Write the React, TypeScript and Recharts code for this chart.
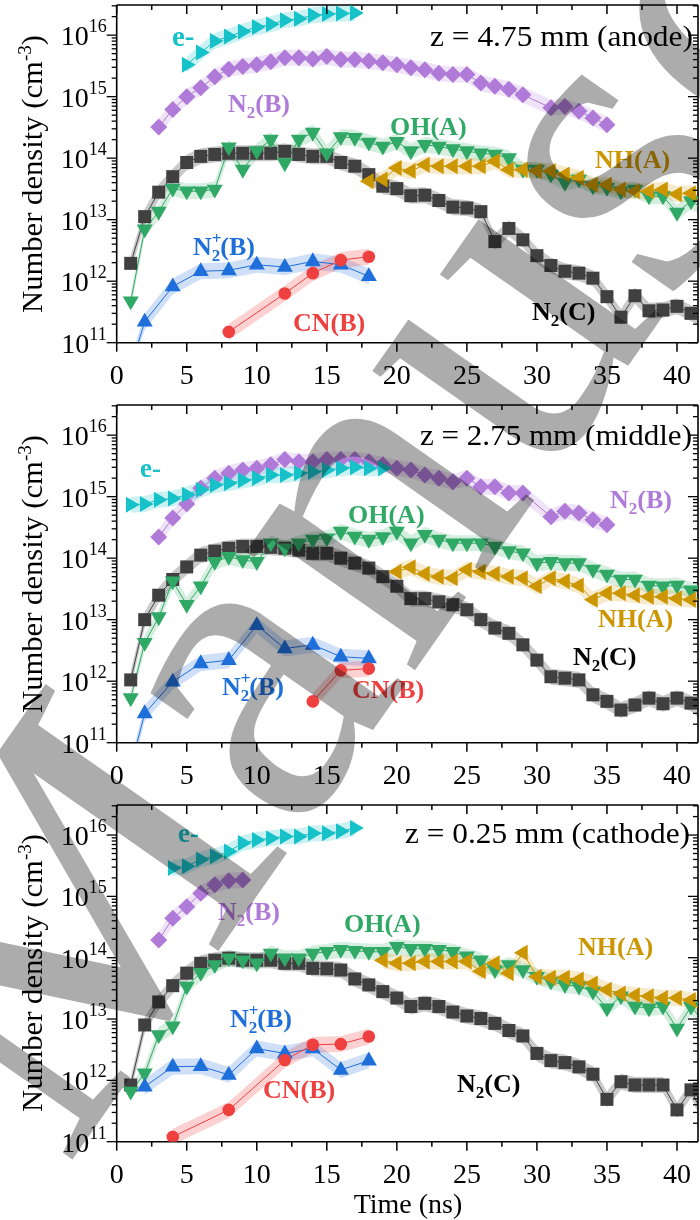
import React from 'react';
import { ComposedChart, Line, Area, XAxis, YAxis } from 'recharts';

const FONT = '"Liberation Serif", "Times New Roman", serif';

// ---------- colours ----------
const COL_N2C = '#404040';
const COL_E = '#17c1c8';
const COL_N2B = '#b07ad8';
const COL_OH = '#30a866';
const COL_NH = '#cc9600';
const COL_N2P = '#1f6fdb';
const COL_CN = '#ef4040';

// ---------- axes ----------
const X_MAX = 41.5;
const X_TICKS = [0, 2.5, 5, 7.5, 10, 12.5, 15, 17.5, 20, 22.5, 25, 27.5, 30, 32.5, 35, 37.5, 40];
const Y_MIN = 1e11;
const Y_MAX = 3.09e16;
const Y_DECADES = [1e11, 1e12, 1e13, 1e14, 1e15, 1e16];
const Y_MINOR = [2, 3, 4, 5, 6, 7, 8, 9];
const Y_TICKS = Y_DECADES.flatMap((d) => [d, ...Y_MINOR.map((m) => m * d)]).filter((v) => v <= Y_MAX);

// ---------- shared time categories ----------
const T_ALL = [1, 2, 3, 4, 5, 6, 7, 8, 9, 10, 11, 12, 13, 14, 15, 16, 17, 18, 19, 20, 21, 22, 23, 24, 25, 26, 27, 28, 29, 30, 31, 32, 33, 34, 35, 36, 37, 38, 39, 40, 41, 42];
const T_N2B = [3, 4, 5, 6, 7, 8, 9, 10, 11, 12, 13, 14, 15, 16, 17, 18, 19, 20, 21, 22, 23, 24, 25, 26, 27, 28, 29, 31, 32, 33, 34, 35];
const T_N2P = [1, 2, 4, 6, 8, 10, 12, 14, 16, 18];

// ---------- z = 4.75 mm (anode) ----------
const A_N2C = [1.95e12, 1.12e13, 2.8e13, 5.0e13, 8.5e13, 1.07e14, 1.15e14, 1.2e14, 1.2e14, 1.2e14,
  1.2e14, 1.29e14, 1.15e14, 1.07e14, 1.07e14, 8.5e13, 7.4e13, 5.4e13, 3.5e13, 3.2e13,
  2.45e13, 2.5e13, 2.05e13, 1.6e13, 1.55e13, 1.35e13, 4.4e12, 7.2e12, 4.7e12, 2.6e12,
  1.8e12, 1.45e12, 1.35e12, 1.12e12, 5.6e11, 2.6e11, 5.8e11, 3.3e11, 3.4e11, 3.9e11, 3.0e11, 2.3e11];
const A_OH = [4.7e11, 7e12, 1.35e13, 3.2e13, 2.9e13, 2.9e13, 3.1e13, 1.5e14, 6.5e13, 1.3e14,
  2e14, 8.3e13, 2e14, 2.6e14, 1.2e14, 2.2e14, 2.15e14, 1.8e14, 1.55e14, 1.85e14,
  1.3e14, 1.65e14, 1.55e14, 1.4e14, 1.3e14, 1.2e14, 1.15e14, 1.0e14, 6.5e13, 6.5e13,
  5.4e13, 4e13, 4.5e13, 3.5e13, 3.3e13, 2.9e13, 3.1e13, 2.4e13, 2.4e13, 1.3e13, 2e13, 1.45e13];
const A_NH_T = [18, 19, 20, 21, 22, 23, 24, 25, 26, 27, 28, 29, 30, 31, 32, 33, 34, 35, 36, 37, 38, 39, 40, 41, 42];
const A_NH = [4.2e13, 4.5e13, 6.9e13, 6.2e13, 7.8e13, 7.4e13, 7.4e13, 7.4e13, 7.4e13, 8.9e13,
  6.5e13, 6.5e13, 6.2e13, 6.2e13, 5.4e13, 4.8e13, 3.7e13, 3.7e13, 3.1e13, 2.9e13,
  2.9e13, 3.1e13, 2.6e13, 2.7e13, 2.2e13];
const A_E_T = [5, 6, 7, 8, 9, 10, 11, 12, 13, 14, 15, 16, 17];
const A_E = [3.3e15, 5.2e15, 8e15, 9.5e15, 1.15e16, 1.35e16, 1.5e16, 1.75e16, 1.85e16, 2.1e16, 2.2e16, 2.25e16, 2.3e16];
const A_N2B = [3.2e14, 6.2e14, 1.0e15, 1.4e15, 2.1e15, 2.8e15, 3.1e15, 3.3e15, 3.7e15, 4.3e15,
  4.3e15, 4.1e15, 4.5e15, 4.0e15, 4.0e15, 3.8e15, 3.55e15, 3.3e15, 2.95e15, 2.75e15,
  2.4e15, 2.3e15, 2.3e15, 1.66e15, 1.48e15, 1.32e15, 1.07e15, 6.6e14, 6.9e14, 5.8e14, 4.5e14, 3.5e14];
const A_N2P = [4e10, 2.2e11, 8.2e11, 1.45e12, 1.5e12, 1.85e12, 1.7e12, 2.1e12, 1.85e12, 1.2e12];
const A_CN_T = [8, 12, 14, 16, 18];
const A_CN = [1.5e11, 6.3e11, 1.35e12, 2.2e12, 2.5e12];

// ---------- z = 2.75 mm (middle) ----------
const M_N2C = [1.05e12, 1e13, 2.5e13, 4.5e13, 7.2e13, 1.12e14, 1.3e14, 1.45e14, 1.55e14, 1.55e14,
  1.5e14, 1.45e14, 1.35e14, 1.2e14, 1.2e14, 1.0e14, 8.3e13, 6.9e13, 5e13, 3.5e13,
  2.2e13, 2.2e13, 1.95e13, 1.75e13, 1.45e13, 1.0e13, 7.3e12, 6e12, 3.9e12, 2.2e12,
  1.18e12, 1.12e12, 1.05e12, 6e11, 4.7e11, 3.4e11, 4.1e11, 5.3e11, 4.3e11, 5.3e11, 4.4e11, 2.8e11];
const M_OH = [5.3e11, 4.2e12, 1.1e13, 4.2e13, 1.75e13, 3.5e13, 8.7e13, 1.05e14, 9.3e13, 8.7e13,
  1.75e14, 1.45e14, 1.75e14, 2e14, 2.1e14, 2.7e14, 2.25e14, 2e14, 2.2e14, 2.7e14,
  1.75e14, 2.4e14, 2e14, 1.75e14, 1.75e14, 1.75e14, 1.55e14, 1.3e14, 1.2e14, 8.3e13,
  8.7e13, 8.3e13, 8.3e13, 6.5e13, 5.4e13, 4.5e13, 4.5e13, 3.6e13, 3.5e13, 3.6e13, 3.0e13, 2.7e13];
const M_NH_T = [20, 21, 22, 23, 24, 25, 26, 27, 28, 29, 30, 31, 32, 33, 34, 35, 36, 37, 38, 39, 40, 41, 42];
const M_NH = [6.0e13, 7.1e13, 5.6e13, 5.0e13, 4.7e13, 6.5e13, 6.0e13, 5.6e13, 5.0e13, 4.7e13,
  3.5e13, 4.7e13, 4.2e13, 3.6e13, 2.1e13, 2.7e13, 2.7e13, 2.5e13, 2.35e13, 2.35e13,
  2.2e13, 2.1e13, 2.1e13];
const M_E_T = [1, 2, 3, 4, 5, 6, 7, 8, 9, 10, 11, 12, 13, 14, 15, 16, 17, 18, 19];
const M_E = [7.4e14, 7.6e14, 8.9e14, 9.3e14, 1.07e15, 1.3e15, 1.55e15, 1.65e15, 1.85e15, 2.0e15,
  2.25e15, 2.25e15, 2.4e15, 2.55e15, 2.7e15, 2.9e15, 3.0e15, 2.9e15, 2.9e15];
const M_N2B = [2.2e14, 4.5e14, 7.6e14, 1.38e15, 2.0e15, 2.4e15, 2.7e15, 2.9e15, 3.3e15, 4.0e15,
  3.7e15, 3.7e15, 4.0e15, 4.0e15, 4.0e15, 3.7e15, 3.3e15, 2.9e15, 2.7e15, 2.25e15,
  2.0e15, 1.75e15, 2.0e15, 1.45e15, 1.45e15, 1.15e15, 1.15e15, 4.7e14, 5.8e14, 5.4e14, 4.2e14, 3.5e14];
const M_N2P = [4e10, 3e11, 9.8e11, 1.95e12, 2.2e12, 8.1e12, 3.4e12, 3.9e12, 2.5e12, 2.35e12];
const M_CN_T = [14, 16, 18];
const M_CN = [4.7e11, 1.5e12, 1.6e12];

// ---------- z = 0.25 mm (cathode) ----------
const C_N2C = [8.4e11, 8e12, 1.9e13, 3.5e13, 5.6e13, 8.1e13, 9.1e13, 9.8e13, 9.1e13, 9.1e13,
  9.1e13, 8.1e13, 8.1e13, 6.7e13, 6.6e13, 6.3e13, 4.5e13, 3.6e13, 2.8e13, 2.2e13,
  1.6e13, 1.8e13, 1.6e13, 1.3e13, 1.12e13, 1.02e13, 8.5e12, 6.5e12, 5.3e12, 2.75e12,
  2.1e12, 1.95e12, 1.66e12, 1.26e12, 4.9e11, 9.5e11, 8.4e11, 8.4e11, 8.4e11, 3.3e11, 7e11, 2.3e11];
const C_OH = [6.6e11, 1.3e12, 5.5e12, 7.6e12, 3.4e13, 5.7e13, 7.6e13, 9.8e13, 9.1e13, 8.1e13,
  1.17e14, 9.8e13, 9.8e13, 1.17e14, 1.25e14, 1.35e14, 1.3e14, 1.25e14, 1.25e14, 1.5e14,
  1.4e14, 1.4e14, 1.35e14, 1.25e14, 1.05e14, 9.1e13, 6.3e13, 7.6e13, 6.3e13, 4.9e13,
  4.1e13, 3.6e13, 3.4e13, 2.8e13, 1.5e13, 2.35e13, 1.6e13, 1.5e13, 1.6e13, 7e12, 1.6e13, 8.5e12];
const C_NH_T = [19, 20, 21, 22, 23, 24, 25, 26, 27, 28, 29, 30, 31, 32, 33, 34, 35, 36, 37, 38, 39, 40, 41, 42];
const C_NH = [9.1e13, 8.1e13, 8.1e13, 8.7e13, 8.7e13, 8.7e13, 8.7e13, 6e13, 8.1e13, 5.6e13,
  1.2e14, 4.9e13, 4.7e13, 4.7e13, 4.4e13, 3.8e13, 3e13, 2.6e13, 2.45e13, 2.35e13,
  2.2e13, 2.2e13, 2.05e13, 1.6e13];
const C_E_T = [4, 5, 6, 7, 8, 9, 10, 11, 12, 13, 14, 15, 16, 17];
const C_E = [2.9e15, 3.1e15, 4e15, 4.5e15, 5.4e15, 7.4e15, 8.3e15, 8.9e15, 9.5e15, 9.5e15, 1.07e16, 1.07e16, 1.15e16, 1.3e16];
const C_N2B_T = [3, 4, 5, 6, 7, 8, 9];
const C_N2B = [1.95e14, 4.4e14, 6.8e14, 1.12e15, 1.55e15, 1.8e15, 1.85e15];
const C_N2P_T = [2, 4, 6, 8, 10, 12, 14, 16, 18];
const C_N2P = [7.9e11, 1.67e12, 1.7e12, 1.23e12, 3.3e12, 2.75e12, 3.3e12, 1.48e12, 2.1e12];
const C_CN_T = [4, 8, 12, 14, 16, 18];
const C_CN = [1.2e11, 3.3e11, 2.15e12, 3.8e12, 3.9e12, 5.2e12];

const BAND = 1.35;

type Shape = 'square' | 'diamond' | 'down' | 'up' | 'left' | 'right' | 'circle';
type Ser = { id: string; t: number[]; v: number[]; color: string; shape: Shape; bandOpacity: number };

const toRows = (t: number[], v: number[]) => t.map((x, i) => ({ t: x, v: v[i], r: [v[i] / BAND, v[i] * BAND] }));

function marker(shape: Shape, color: string, cx: number, cy: number, key: string) {
  switch (shape) {
    case 'square':
      return <rect key={key} x={cx - 6.5} y={cy - 6.5} width={13} height={13} fill={color} />;
    case 'diamond':
      return <polygon key={key} points={`${cx},${cy - 8.5} ${cx + 8.5},${cy} ${cx},${cy + 8.5} ${cx - 8.5},${cy}`} fill={color} />;
    case 'down':
      return <polygon key={key} points={`${cx - 8},${cy - 4.8} ${cx + 8},${cy - 4.8} ${cx},${cy + 9}`} fill={color} />;
    case 'up':
      return <polygon key={key} points={`${cx - 8},${cy + 4.8} ${cx + 8},${cy + 4.8} ${cx},${cy - 9}`} fill={color} />;
    case 'right':
      return <polygon key={key} points={`${cx - 4.8},${cy - 8} ${cx - 4.8},${cy + 8} ${cx + 9},${cy}`} fill={color} />;
    case 'left':
      return <polygon key={key} points={`${cx + 4.8},${cy - 8} ${cx + 4.8},${cy + 8} ${cx - 9},${cy}`} fill={color} />;
    default:
      return <circle key={key} cx={cx} cy={cy} r={6.3} fill={color} />;
  }
}

const AX = { stroke: '#000', strokeWidth: 1.6 };

const XBottomTick = (p: any) => {
  const { x, y, payload } = p;
  const v = payload.value;
  const major = v % 5 === 0;
  return (
    <g>
      <line x1={x} x2={x} y1={y} y2={y + (major ? 9 : 5)} stroke="#000" strokeWidth={1.5} />
      {major && (
        <text x={x} y={y + 41} textAnchor="middle" fontFamily={FONT} fontSize={28} fill="#000">{v}</text>
      )}
    </g>
  );
};
const XTopTick = (p: any) => {
  const { x, y, payload } = p;
  const major = payload.value % 5 === 0;
  return <line x1={x} x2={x} y1={y} y2={y + (major ? 9 : 5)} stroke="#000" strokeWidth={1.5} />;
};
const isDecade = (v: number) => Math.abs(Math.log10(v) - Math.round(Math.log10(v))) < 1e-6;
const YLeftTick = (p: any) => {
  const { x, y, payload } = p;
  const v = payload.value;
  const major = isDecade(v);
  return (
    <g>
      <line x1={x - (major ? 10 : 5)} x2={x} y1={y} y2={y} stroke="#000" strokeWidth={1.3} />
      {major && (
        <text x={x - 10} y={y + 10} textAnchor="end" fontFamily={FONT} fontSize={28} fill="#000">
          10<tspan fontSize={18} dy={-13}>{Math.round(Math.log10(v))}</tspan>
        </text>
      )}
    </g>
  );
};
const YRightTick = (p: any) => {
  const { x, y, payload } = p;
  const major = isDecade(payload.value);
  return <line x1={x - (major ? 10 : 5)} x2={x} y1={y} y2={y} stroke="#000" strokeWidth={1.3} />;
};

function Panel({ series, height, bottom }: { series: Ser[]; height: number; bottom: number }) {
  return (
    <ComposedChart width={700} height={height} margin={{ top: 4, right: 1, bottom, left: 115.7 }}>
      {series.map((s) => (
        <Area
          key={'band-' + s.id}
          data={toRows(s.t, s.v)}
          dataKey="r"
          xAxisId="b"
          yAxisId="l"
          type="linear"
          stroke="none"
          fill={s.color}
          fillOpacity={s.bandOpacity}
          dot={false}
          activeDot={false}
          isAnimationActive={false}
        />
      ))}
      {series.map((s) => (
        <Line
          key={'line-' + s.id}
          data={toRows(s.t, s.v)}
          dataKey="v"
          xAxisId="b"
          yAxisId="l"
          type="linear"
          stroke={s.color}
          strokeWidth={1}
          dot={(p: any) => {
            const { cx, cy, index } = p;
            if (cx == null || cy == null) return <g key={`${s.id}-e${index}`} />;
            return marker(s.shape, s.color, cx, cy, `${s.id}-d${index}`);
          }}
          activeDot={false}
          isAnimationActive={false}
        />
      ))}
      <XAxis xAxisId="b" dataKey="t" type="number" domain={[0, X_MAX]} allowDataOverflow ticks={X_TICKS}
        interval={0} tickSize={0} tickMargin={0} tickLine={false} axisLine={AX} tick={(p: any) => <XBottomTick {...p} />} height={1} />
      <XAxis xAxisId="t" orientation="top" dataKey="t" type="number" domain={[0, X_MAX]} allowDataOverflow ticks={X_TICKS}
        interval={0} tickSize={0} tickMargin={0} tickLine={false} axisLine={AX} tick={(p: any) => <XTopTick {...p} />} height={1} />
      <YAxis yAxisId="l" scale="log" type="number" domain={[Y_MIN, Y_MAX]} allowDataOverflow ticks={Y_TICKS}
        interval={0} tickSize={0} tickMargin={0} tickLine={false} axisLine={AX} tick={(p: any) => <YLeftTick {...p} />} width={1} />
      <YAxis yAxisId="r" orientation="right" scale="log" type="number" domain={[Y_MIN, Y_MAX]} allowDataOverflow ticks={Y_TICKS}
        interval={0} tickSize={0} tickMargin={0} tickLine={false} axisLine={AX} tick={(p: any) => <YRightTick {...p} />} width={1} />
    </ComposedChart>
  );
}

const mkSeries = (p: string, d: {
  n2c: number[]; oh: number[]; nhT: number[]; nh: number[]; n2pT: number[]; n2p: number[];
  cnT: number[]; cn: number[]; n2bT: number[]; n2b: number[]; eT: number[]; e: number[];
}): Ser[] => [
  { id: p + 'n2c', t: T_ALL, v: d.n2c, color: COL_N2C, shape: 'square', bandOpacity: 0.28 },
  { id: p + 'oh', t: T_ALL, v: d.oh, color: COL_OH, shape: 'down', bandOpacity: 0.2 },
  { id: p + 'nh', t: d.nhT, v: d.nh, color: COL_NH, shape: 'left', bandOpacity: 0.2 },
  { id: p + 'n2p', t: d.n2pT, v: d.n2p, color: COL_N2P, shape: 'up', bandOpacity: 0.22 },
  { id: p + 'cn', t: d.cnT, v: d.cn, color: COL_CN, shape: 'circle', bandOpacity: 0.24 },
  { id: p + 'n2b', t: d.n2bT, v: d.n2b, color: COL_N2B, shape: 'diamond', bandOpacity: 0.2 },
  { id: p + 'e', t: d.eT, v: d.e, color: COL_E, shape: 'right', bandOpacity: 0.22 },
];

const ANODE = mkSeries('a', { n2c: A_N2C, oh: A_OH, nhT: A_NH_T, nh: A_NH, n2pT: T_N2P, n2p: A_N2P, cnT: A_CN_T, cn: A_CN, n2bT: T_N2B, n2b: A_N2B, eT: A_E_T, e: A_E });
const MIDDLE = mkSeries('m', { n2c: M_N2C, oh: M_OH, nhT: M_NH_T, nh: M_NH, n2pT: T_N2P, n2p: M_N2P, cnT: M_CN_T, cn: M_CN, n2bT: T_N2B, n2b: M_N2B, eT: M_E_T, e: M_E });
const CATHODE = mkSeries('c', { n2c: C_N2C, oh: C_OH, nhT: C_NH_T, nh: C_NH, n2pT: C_N2P_T, n2p: C_N2P, cnT: C_CN_T, cn: C_CN, n2bT: C_N2B_T, n2b: C_N2B, eT: C_E_T, e: C_E });

const Lbl = ({ x, y, color, size = 26, children }: any) => (
  <text x={x} y={y} fill={color} fontFamily={FONT} fontWeight="bold" fontSize={size}>{children}</text>
);
const N2 = (tail: string) => (
  <>N<tspan fontSize={17} dy={6}>2</tspan><tspan dy={-6}>{tail}</tspan></>
);
const N2P = () => (
  <>N<tspan fontSize={17} dy={-11}>+</tspan><tspan fontSize={17} dx={-9.6} dy={17}>2</tspan><tspan dy={-6}>(B)</tspan></>
);
const YTitle = ({ cy }: { cy: number }) => (
  <text transform={`translate(42, ${cy}) rotate(-90)`} textAnchor="middle" fontFamily={FONT} fontSize={29} fill="#000"
    textLength={278} lengthAdjust="spacingAndGlyphs">
    Number density (cm<tspan fontSize={18} dy={-11}>-3</tspan><tspan dy={11}>)</tspan>
  </text>
);
const ZLbl = ({ x, y, w, children }: any) => (
  <text x={x} y={y} textAnchor="end" fontFamily={FONT} fontSize={29} fill="#000" textLength={w} lengthAdjust="spacingAndGlyphs">{children}</text>
);

export default function App() {
  return (
    <div style={{ position: 'absolute', left: 0, top: 0, width: 700, height: 1220, background: '#fff', overflow: 'hidden' }}>
      <div style={{ position: 'absolute', left: 0, top: 0 }}>
        <Panel series={ANODE} height={400} bottom={56.3} />
      </div>
      <div style={{ position: 'absolute', left: 0, top: 400 }}>
        <Panel series={MIDDLE} height={400} bottom={56.3} />
      </div>
      <div style={{ position: 'absolute', left: 0, top: 800 }}>
        <Panel series={CATHODE} height={420} bottom={77.3} />
      </div>
      <svg width={700} height={1220} style={{ position: 'absolute', left: 0, top: 0, pointerEvents: 'none' }}>
        <YTitle cy={174} />
        <YTitle cy={574} />
        <YTitle cy={973} />
        <ZLbl x={693} y={46} w={263}>z = 4.75 mm (anode)</ZLbl>
        <ZLbl x={692} y={445} w={272}>z = 2.75 mm (middle)</ZLbl>
        <ZLbl x={690} y={843} w={285}>z = 0.25 mm (cathode)</ZLbl>
        <text x={408} y={1213} textAnchor="middle" fontFamily={FONT} fontSize={28} fill="#000">Time (ns)</text>

        {/* anode labels */}
        <Lbl x={172} y={46} color={COL_E} size={29}>e-</Lbl>
        <Lbl x={228} y={112} color={COL_N2B}>{N2('(B)')}</Lbl>
        <Lbl x={390} y={135} color={COL_OH}>OH(A)</Lbl>
        <Lbl x={595} y={168} color={COL_NH}>NH(A)</Lbl>
        <Lbl x={193} y={255} color={COL_N2P}><N2P /></Lbl>
        <Lbl x={293} y={331} color={COL_CN}>CN(B)</Lbl>
        <Lbl x={532} y={320} color="#000">{N2('(C)')}</Lbl>

        {/* middle labels */}
        <Lbl x={140} y={477} color={COL_E} size={27}>e-</Lbl>
        <Lbl x={610} y={508} color={COL_N2B}>{N2('(B)')}</Lbl>
        <Lbl x={348} y={523} color={COL_OH}>OH(A)</Lbl>
        <Lbl x={598} y={627} color={COL_NH}>NH(A)</Lbl>
        <Lbl x={573} y={665} color="#000">{N2('(C)')}</Lbl>
        <Lbl x={222} y={695} color={COL_N2P}><N2P /></Lbl>
        <Lbl x={352} y={698} color={COL_CN}>CN(B)</Lbl>

        {/* cathode labels */}
        <Lbl x={178} y={842} color={COL_E} size={27}>e-</Lbl>
        <Lbl x={218} y={920} color={COL_N2B}>{N2('(B)')}</Lbl>
        <Lbl x={344} y={932} color={COL_OH}>OH(A)</Lbl>
        <Lbl x={578} y={955} color={COL_NH}>NH(A)</Lbl>
        <Lbl x={230} y={1027} color={COL_N2P}><N2P /></Lbl>
        <Lbl x={263} y={1098} color={COL_CN}>CN(B)</Lbl>
        <Lbl x={457} y={1092} color="#000">{N2('(C)')}</Lbl>
      </svg>
      <svg width={700} height={1220} style={{ position: 'absolute', left: 0, top: 0, pointerEvents: 'none', mixBlendMode: 'multiply' }}>
        <g transform="translate(65, 1170) rotate(-55)" fontFamily={FONT} fontSize={450} fill="#acacac">
          <text x={-112} y={0} textAnchor="end">Accepted</text>
          <text x={0} y={0}>Manuscript</text>
        </g>
      </svg>
    </div>
  );
}
